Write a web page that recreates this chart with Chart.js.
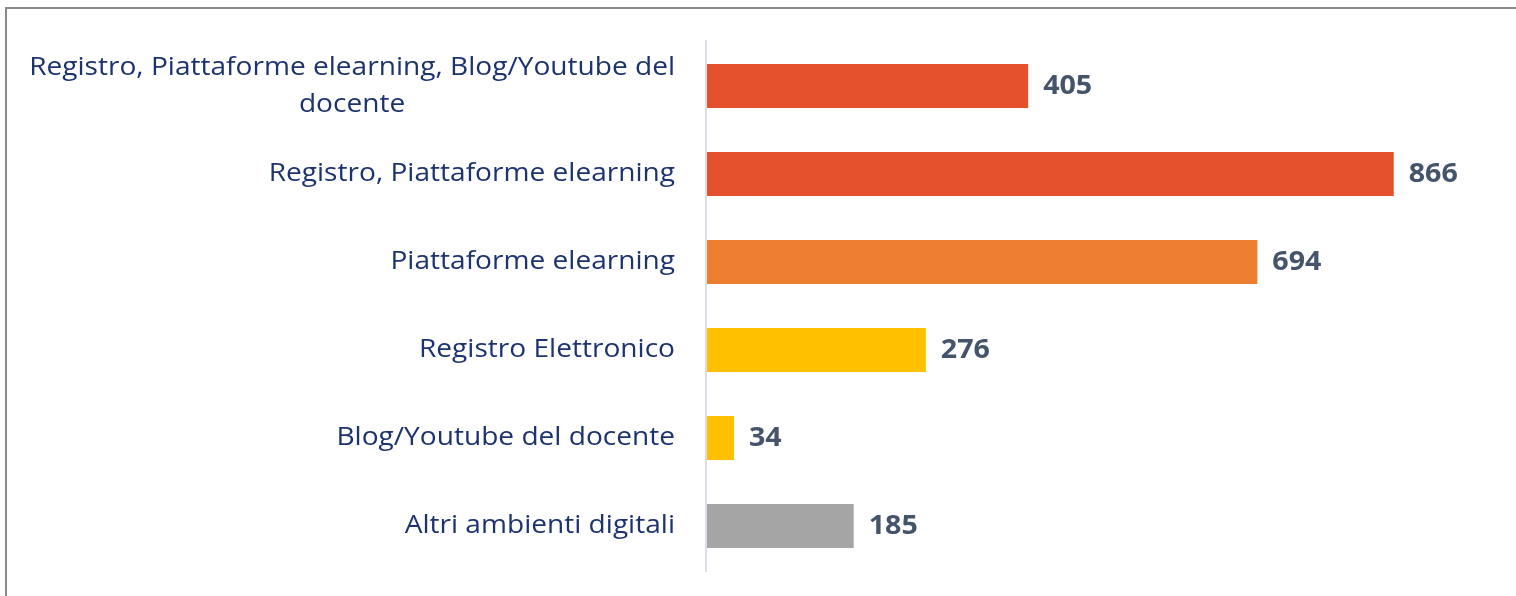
<!DOCTYPE html>
<html>
<head>
<meta charset="utf-8">
<script src="https://cdn.jsdelivr.net/npm/chart.js@4/dist/chart.umd.min.js"></script>
<style>
  html, body { margin: 0; padding: 0; background: #fff; }
  #wrap { position: relative; width: 1516px; height: 596px; overflow: hidden; }
  #frame { position: absolute; left: 5px; top: 7px; width: 1600px; height: 700px; border: 2px solid #8a8a8a; box-sizing: border-box; }
  canvas { position: absolute; left: 0; top: 0; }
</style>
</head>
<body>
<div id="wrap">
  <div id="frame"></div>
  <canvas id="c" width="1516" height="596"></canvas>
</div>
<script>
const categories = [
  ["Registro, Piattaforme elearning, Blog/Youtube del", "docente"],
  ["Registro, Piattaforme elearning"],
  ["Piattaforme elearning"],
  ["Registro Elettronico"],
  ["Blog/Youtube del docente"],
  ["Altri ambienti digitali"]
];
const values = [405, 866, 694, 276, 34, 185];
const barColors = ["#E4522D", "#E4522D", "#ED7D31", "#FFC000", "#FFC000", "#A5A5A5"];
const axisMax = 1000;

const LABEL_FONT = '26px "Open Sans"';
const LABEL_SX = 1.08;
const VALUE_FONT = 'bold 26px "Open Sans"';
const VALUE_SX = 1.1;

function drawStretched(ctx, text, x, y, sx) {
  ctx.save();
  ctx.translate(x, y);
  ctx.scale(sx, 1);
  ctx.fillText(text, 0, 0);
  ctx.restore();
}

const labelsPlugin = {
  id: 'customLabels',
  afterDatasetsDraw(chart) {
    const ctx = chart.ctx;
    const area = chart.chartArea;
    const yScale = chart.scales.y;
    ctx.save();
    // axis line
    ctx.strokeStyle = '#D9DEE7';
    ctx.lineWidth = 2;
    ctx.beginPath();
    ctx.moveTo(area.left - 1, area.top - 2);
    ctx.lineTo(area.left - 1, area.bottom + 2);
    ctx.stroke();
    // category labels
    ctx.font = LABEL_FONT;
    ctx.fillStyle = '#1C3370';
    ctx.textBaseline = 'middle';
    ctx.textAlign = 'center';
    const rightEdge = area.left - 32;
    const lineH = 37;
    categories.forEach((lines, i) => {
      const yc = yScale.getPixelForValue(i);
      const maxW = Math.max(...lines.map(l => ctx.measureText(l).width)) * LABEL_SX;
      const cx = rightEdge - maxW / 2;
      const y0 = yc - (lines.length - 1) * lineH / 2;
      lines.forEach((l, j) => drawStretched(ctx, l, cx, y0 + j * lineH, LABEL_SX));
    });
    // value labels
    ctx.font = VALUE_FONT;
    ctx.fillStyle = '#44546A';
    ctx.textAlign = 'left';
    const meta = chart.getDatasetMeta(0);
    meta.data.forEach((bar, i) => {
      drawStretched(ctx, String(values[i]), bar.x + 15, bar.y + 1, VALUE_SX);
    });
    ctx.restore();
  }
};

new Chart(document.getElementById('c'), {
  type: 'bar',
  data: {
    labels: categories.map(l => l.join(' ')),
    datasets: [{
      data: values,
      backgroundColor: barColors,
      borderWidth: 0,
      categoryPercentage: 0.5,
      barPercentage: 1.0
    }]
  },
  options: {
    indexAxis: 'y',
    responsive: false,
    animation: false,
    layout: { padding: { left: 707, right: 16, top: 42, bottom: 26 } },
    plugins: { legend: { display: false }, tooltip: { enabled: false } },
    scales: {
      x: { display: false, min: 0, max: axisMax },
      y: { display: false }
    }
  },
  plugins: [labelsPlugin]
});
</script>
</body>
</html>
